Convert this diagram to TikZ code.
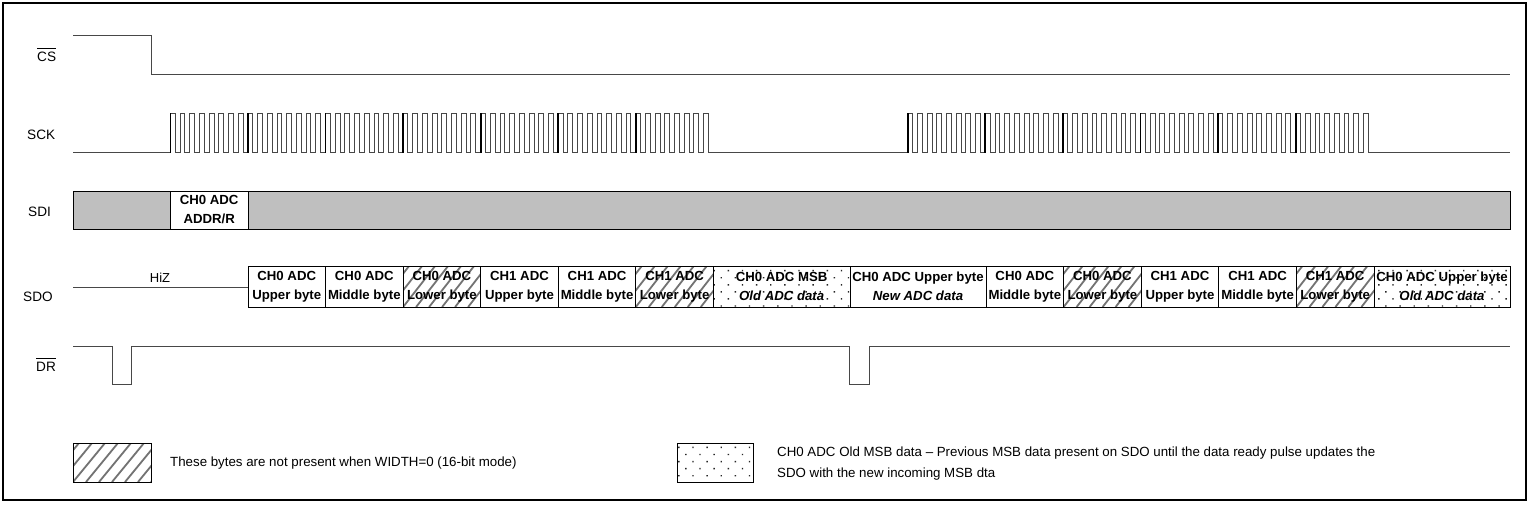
\documentclass[tikz,border=0pt]{standalone}
\usepackage{fontspec}
\setmainfont{Liberation Sans}
\usetikzlibrary{patterns.meta}
\newcommand\ovl[1]{\vbox{\hrule height 0.8pt\kern3.2pt\hbox{#1}}}
\begin{document}
\begin{tikzpicture}[x=1pt,y=-1pt,
  sig/.style={line width=1pt, draw=black!72},
  edge/.style={line width=1.8pt, draw=black},
  lbl/.style={anchor=base west, inner sep=0pt, font=\fontsize{13.6}{15}\selectfont},
  byte/.style={draw=black, line width=0.8pt, minimum height=41pt, inner sep=0pt, outer sep=0pt,
    anchor=west, align=center, font=\bfseries\fontsize{13.2}{19}\selectfont},
  plain/.style={fill=white},
  hatch/.style={},
  hatchline/.style={line width=1.8pt, draw=black!55},
  dotted box/.style={preaction={fill=white}, pattern={Dots[angle=45,distance=10pt,radius=1pt]}, pattern color=black!85},
  legtext/.style={anchor=base west, inner sep=0pt, font=\fontsize{13.3}{15}\selectfont}
]
\newcommand\hatchfill[4]{%
  \begin{scope}
    \clip (#1,#3) rectangle (#2,#4);
    \fill[white] (#1,#3) rectangle (#2,#4);
    \foreach \s in {-4,...,10} \draw[hatchline] ({#1+\s*13},#4) -- ++(32,{#3-#4});
  \end{scope}}
\useasboundingbox (0,0) rectangle (1531,504);
\draw[line width=2pt] (3,3) rectangle (1526,500);

% labels
\node[lbl] (lcs) at (37,61.5) {\ovl{CS}};
\node[lbl] (lsck) at (27,139.5) {SCK};
\node[lbl] (lsdi) at (28,216) {SDI};
\node[lbl] (lsdo) at (23,301) {SDO};
\node[lbl] (ldr) at (36,371) {\ovl{DR}};

% CS
\draw[sig] (73,35.5) -- (151.5,35.5) -- (151.5,74) -- (1510,74);

% SCK
\def\hp{4.848}
\draw[sig] (73,152.5) -- (170.4,152.5)
  \foreach \k in {1,...,56} { -- ++(0,-39.5) -- ++(\hp,0) -- ++(0,39.5) -- ++(\hp,0) }
  -- (907.8,152.5)
  \foreach \k in {1,...,48} { -- ++(0,-39.5) -- ++(\hp,0) -- ++(0,39.5) -- ++(\hp,0) }
  -- (1510,152.5);
\foreach \i in {0,...,6} \draw[edge] ({170.4+\i*77.57},152.5) -- ++(0,-39.5);
\foreach \i in {0,...,5} \draw[edge] ({907.8+\i*77.57},152.5) -- ++(0,-39.5);

% SDI
\filldraw[fill=black!25, draw=black, line width=0.8pt] (73,191) rectangle (1510,229);
\node[byte, plain, minimum width=77.6, minimum height=38] (addr) at (170.4,210) {CH0 ADC\\ADDR/R};

% SDO
\draw[sig] (73,287) -- (248,287);
\node[anchor=base, inner sep=0pt, font=\fontsize{13}{15}\selectfont] (hiz) at (160,282) {HiZ};
\newcommand\sdobyte[5]{\node[byte,#4,minimum width={#3-#2}] (#1) at (#2,286.5) {#5};}
\newcommand\sdohatch[4]{\hatchfill{#2}{#3}{266}{307}\node[byte,minimum width={#3-#2}] (#1) at (#2,286.5) {#4};}
\sdobyte{b1}{248}{325.5}{plain}{CH0 ADC\\Upper byte}
\sdobyte{b2}{325.5}{403.1}{plain}{CH0 ADC\\Middle byte}
\sdohatch{b3}{403.1}{480.7}{CH0 ADC\\Lower byte}
\sdobyte{b4}{480.7}{558.3}{plain}{CH1 ADC\\Upper byte}
\sdobyte{b5}{558.3}{635.8}{plain}{CH1 ADC\\Middle byte}
\sdohatch{b6}{635.8}{713.4}{CH1 ADC\\Lower byte}
\sdobyte{b7}{713.4}{850}{dotted box}{CH0 ADC MSB\\\textit{Old ADC data}}
\sdobyte{b8}{850}{986}{plain}{CH0 ADC Upper byte\\\textit{New ADC data}}
\sdobyte{b9}{986}{1063.6}{plain}{CH0 ADC\\Middle byte}
\sdohatch{b10}{1063.6}{1141.2}{CH0 ADC\\Lower byte}
\sdobyte{b11}{1141.2}{1218.8}{plain}{CH1 ADC\\Upper byte}
\sdobyte{b12}{1218.8}{1296.4}{plain}{CH1 ADC\\Middle byte}
\sdohatch{b13}{1296.4}{1374}{CH1 ADC\\Lower byte}
\sdobyte{b14}{1374}{1510}{dotted box}{CH0 ADC Upper byte\\\textit{Old ADC data}}

% DR
\draw[sig] (73,346) -- (112.5,346) -- (112.5,384) -- (131.5,384) -- (131.5,346)
  -- (849.5,346) -- (849.5,384) -- (869,384) -- (869,346) -- (1510,346);

% legend
\hatchfill{73}{151}{443}{482}
\node[draw=black, line width=0.8pt, minimum width=78, minimum height=39, inner sep=0pt, outer sep=0pt, anchor=north west] (lh) at (73,443) {};
\node[legtext] (lht) at (170,466.5) {These bytes are not present when WIDTH=0 (16-bit mode)};
\node[draw=black, line width=0.8pt, dotted box, minimum width=76, minimum height=39, inner sep=0pt, outer sep=0pt, anchor=north west] (ld) at (677,443) {};
\node[legtext] (ldt1) at (777,456.5) {CH0 ADC Old MSB data – Previous MSB data present on SDO until the data ready pulse updates the};
\node[legtext] (ldt2) at (777,477.5) {SDO with the new incoming MSB dta};
\end{tikzpicture}
\end{document}
